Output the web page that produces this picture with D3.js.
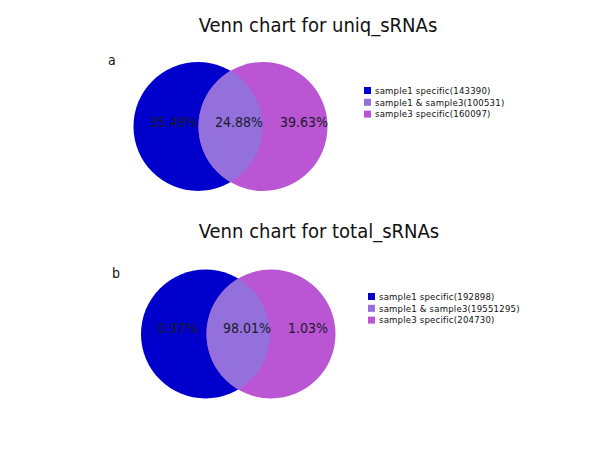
<!DOCTYPE html>
<html><head><meta charset="utf-8">
<script src="https://cdn.jsdelivr.net/npm/d3@7"></script>
<style>body{margin:0;background:#fff}svg{display:block}</style>
</head><body>
<script>
const titles = ["Venn chart for uniq_sRNAs", "Venn chart for total_sRNAs"];
const panelLetters = ["a", "b"];
const categories = ["sample1 specific", "sample1 & sample3", "sample3 specific"];
const uniqCounts = [143390, 100531, 160097];
const totalCounts = [192898, 19551295, 204730];
const colors = ["#0000CC", "#9370DB", "#BA55D3"];

const W = 600, H = 450;
const svg = d3.select("body").append("svg").attr("width", W).attr("height", H);
const font = "'DejaVu Sans Condensed','DejaVu Sans',sans-serif";

const panels = [
  {title: titles[0], letter: panelLetters[0], counts: uniqCounts,
   titleX: 318, titleY: 32, letterX: 108, letterY: 65,
   cx0: 198, cx1: 263, cy: 126.5, r: 64.5,
   lblX: [173.5, 239, 304], lblY: 127, legX: 364, legY: 87},
  {title: titles[1], letter: panelLetters[1], counts: totalCounts,
   titleX: 319, titleY: 238, letterX: 112, letterY: 278,
   cx0: 205.5, cx1: 271, cy: 334, r: 64.5,
   lblX: [177.5, 247, 308], lblY: 333, legX: 368, legY: 293}
];

panels.forEach((p, i) => {
  const g = svg.append("g");
  const total = d3.sum(p.counts);
  const pct = p.counts.map(v => (v / total * 100).toFixed(2) + "%");
  const xs = d3.scaleLinear().domain([0, 1]).range([p.cx0, p.cx1]);
  const sets = [0, 1];

  g.append("text").attr("x", p.titleX).attr("y", p.titleY)
    .attr("text-anchor", "middle").attr("font-family", font)
    .attr("font-size", 20).attr("fill", "#111").text(p.title);
  g.append("text").attr("x", p.letterX).attr("y", p.letterY)
    .attr("font-family", font).attr("font-size", 14).attr("fill", "#111").text(p.letter);

  const clipId = "clip" + i;
  svg.append("defs").append("clipPath").attr("id", clipId)
    .append("circle").attr("cx", xs(0)).attr("cy", p.cy).attr("r", p.r);

  g.selectAll("circle.set").data(sets).join("circle").attr("class", "set")
    .attr("cx", d => xs(d)).attr("cy", p.cy).attr("r", p.r)
    .attr("fill", d => d === 0 ? colors[0] : colors[2]);
  g.append("circle").attr("cx", xs(1)).attr("cy", p.cy).attr("r", p.r)
    .attr("fill", colors[1]).attr("clip-path", `url(#${clipId})`);

  g.selectAll("text.pct").data(pct).join("text").attr("class", "pct")
    .attr("x", (d, k) => p.lblX[k]).attr("y", p.lblY)
    .attr("text-anchor", "middle").attr("font-family", font)
    .attr("font-size", 14).attr("fill", "#1a1a2a").text(d => d);

  const leg = g.selectAll("g.leg").data(categories).join("g").attr("class", "leg")
    .attr("transform", (d, k) => `translate(${p.legX},${p.legY + k * 11.8})`);
  leg.append("rect").attr("width", 7).attr("height", 7).attr("fill", (d, k) => colors[k]);
  leg.append("text").attr("x", 11).attr("y", 6.8).attr("font-family", font)
    .attr("font-size", 9.5).attr("letter-spacing", 0.2).attr("fill", "#111")
    .text((d, k) => `${d}(${p.counts[k]})`);
});
</script>
</body></html>
